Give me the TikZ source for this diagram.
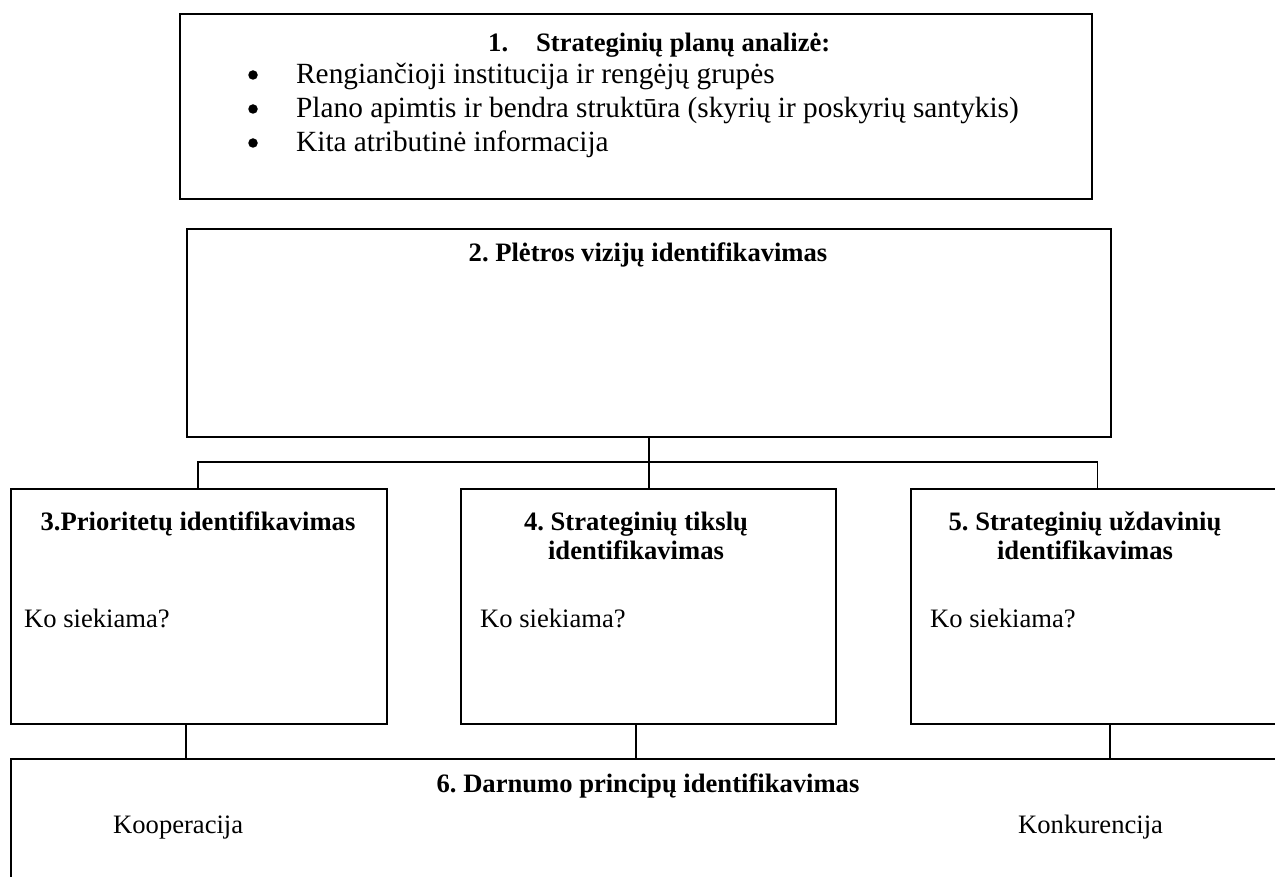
\documentclass[tikz,border=0pt]{standalone}
\usepackage{fontspec}
\setmainfont{Liberation Serif}
\frenchspacing
\begin{document}
\begin{tikzpicture}[x=1pt,y=-1pt,
  box/.style={draw=black,line width=1.6pt,rectangle,inner sep=0pt,anchor=north west},
  link/.style={draw=black,line width=1.6pt},
  txt/.style={inner sep=0pt,anchor=base,font=\fontsize{26.6}{29}\selectfont},
  lefttxt/.style={txt,anchor=base west},
  bigtxt/.style={lefttxt,font=\fontsize{29.3}{34}\selectfont},
  dot/.style={circle,fill=black,inner sep=0pt,minimum size=9.5pt},
  head/.style={txt,font=\fontsize{26.6}{29}\selectfont\bfseries}]
\useasboundingbox (0,0) rectangle (1275,877);
\clip (0,0) rectangle (1275,877);
\fill[white] (0,0) rectangle (1275,877);

% boxes
\node[box,minimum width=912pt,minimum height=185pt] (b1) at (179,13) {};
\node[box,minimum width=924pt,minimum height=208pt] (b2) at (186,228) {};
\node[box,minimum width=376pt,minimum height=235pt] (b3) at (10,488) {};
\node[box,minimum width=375pt,minimum height=235pt] (b4) at (460,488) {};
\node[box,minimum width=380pt,minimum height=235pt] (b5) at (910,488) {};
\node[box,minimum width=1290pt,minimum height=140pt] (b6) at (10,758) {};

% box 1 contents: numbered heading and bulleted list
\node[head,anchor=base west] (t1) at (488,52) {1.\hspace{28pt}Strateginių planų analizė:};
\node[dot] (d1) at (253,75) {};
\node[bigtxt] (l1) at (296,84) {Rengiančioji institucija ir rengėjų grupės};
\node[dot] (d2) at (253,109) {};
\node[bigtxt] (l2) at (296,118) {Plano apimtis ir bendra struktūra (skyrių ir poskyrių santykis)};
\node[dot] (d3) at (253,143) {};
\node[bigtxt] (l3) at (296,152) {Kita atributinė informacija};

% box 2 contents
\node[head] (t2) at (648,262) {2. Plėtros vizijų identifikavimas};

% boxes 3-5 contents
\node[head] (t3) at (198,530) {3.Prioritetų identifikavimas};
\node[lefttxt] (q3) at (24,627) {Ko siekiama?};
\node[head] (t4a) at (636,530) {4. Strateginių tikslų};
\node[head] (t4b) at (636,559) {identifikavimas};
\node[lefttxt] (q4) at (480,627) {Ko siekiama?};
\node[head] (t5a) at (1085,530) {5. Strateginių uždavinių};
\node[head] (t5b) at (1085,559) {identifikavimas};
\node[lefttxt] (q5) at (930,627) {Ko siekiama?};

% box 6 contents
\node[head] (t6) at (648,792) {6. Darnumo principų identifikavimas};
\node[lefttxt] (k1) at (113,833) {Kooperacija};
\node[lefttxt] (k2) at (1018,833) {Konkurencija};

% connectors from box 2 to boxes 3-5
\coordinate (hl) at (198,462);
\coordinate (hr) at (1097.5,462);
\draw[link] (b2.south) -- (b2.south |- b4.north);
\draw[link] (hl |- b3.north) -- (hl) -- (hr) -- (hr |- b5.north);

% connectors from boxes 3-5 to box 6
\coordinate (c3) at (186,723);
\coordinate (c4) at (636,723);
\coordinate (c5) at (1110,723);
\draw[link] (c3 |- b3.south) -- (c3 |- b6.north);
\draw[link] (c4 |- b4.south) -- (c4 |- b6.north);
\draw[link] (c5 |- b5.south) -- (c5 |- b6.north);
\end{tikzpicture}
\end{document}
